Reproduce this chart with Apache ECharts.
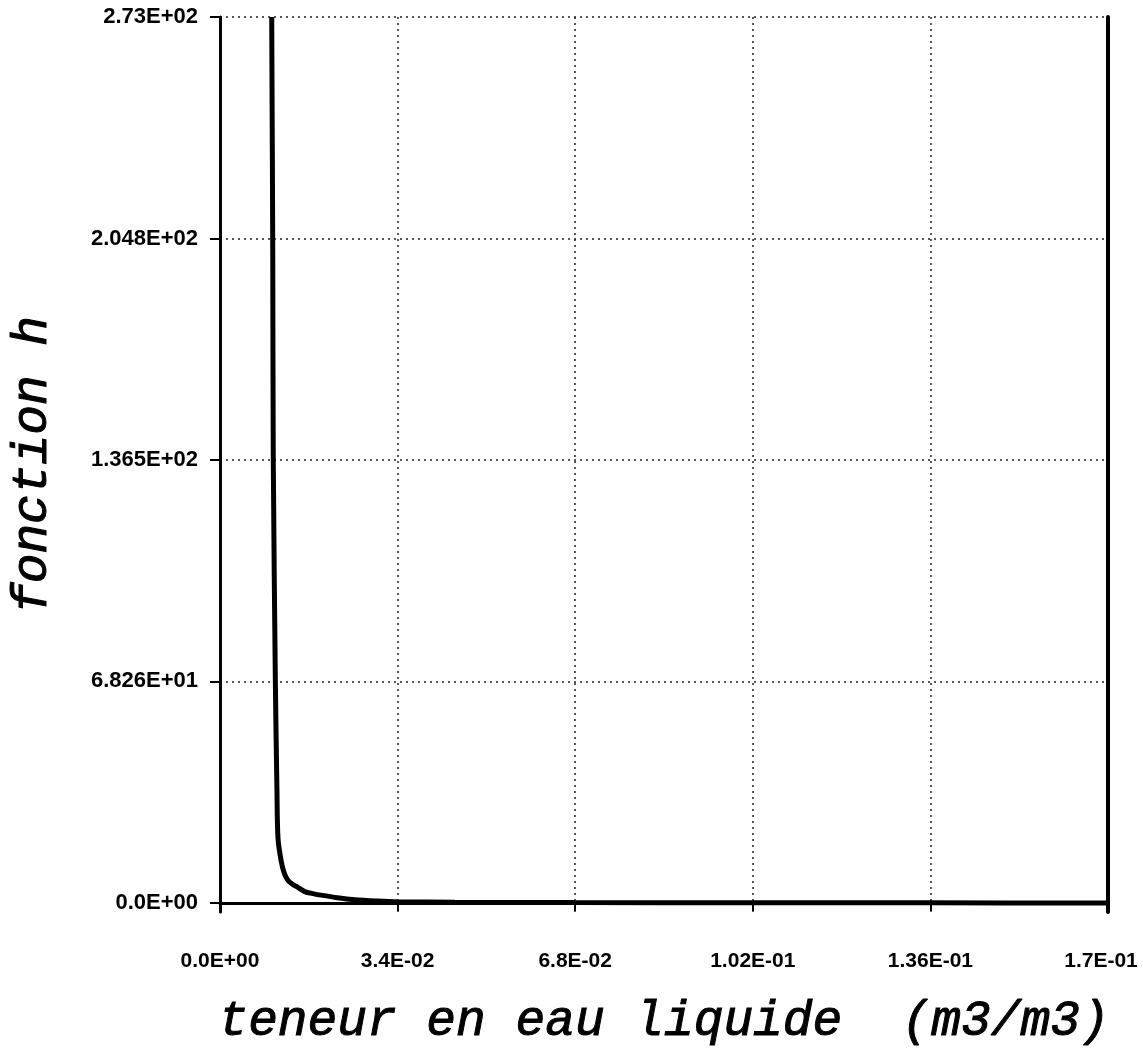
<!DOCTYPE html>
<html>
<head>
<meta charset="utf-8">
<style>
  html, body { margin: 0; padding: 0; background: #fff; }
  #chart { width: 1143px; height: 1054px; }
</style>
<script src="https://cdn.jsdelivr.net/npm/echarts@6/dist/echarts.min.js"></script>
</head>
<body>
<div id="chart"></div>
<script>
// values: teneur (m3/m3) -> fonction h
const teneur = [0.0099, 0.0101, 0.0102, 0.0106, 0.0109, 0.0111, 0.0117, 0.0123, 0.0130, 0.0140, 0.0149,
  0.0162, 0.0180, 0.0193, 0.0225, 0.0258, 0.030, 0.034, 0.045, 0.068, 0.10, 0.136, 0.17]
const fonctionH = [273, 200, 136.5, 68, 35, 20, 13, 9.2, 7.0, 5.6, 4.8,
  3.5, 2.8, 2.4, 1.6, 1.0, 0.6, 0.35, 0.2, 0.1, 0.05, 0.02, 0]

const xTickLabels = ['0.0E+00', '3.4E-02', '6.8E-02', '1.02E-01', '1.36E-01', '1.7E-01']
const yTicks = [0, 68.25, 136.5, 204.75, 273]
const yTickLabels = ['0.0E+00', '6.826E+01', '1.365E+02', '2.048E+02', '2.73E+02']

const points = teneur.map((t, i) => [t, fonctionH[i]])

const labelFont = { fontFamily: 'Liberation Sans', fontWeight: 'bold', fontSize: 22, color: '#000' }
const titleFont = {
  fontFamily: 'Liberation Mono', fontStyle: 'italic', fontSize: 49.5, color: '#000',
  textBorderColor: '#000', textBorderWidth: 1
}
const dotted = { color: '#222', width: 1.5, type: [2, 4] }

var myChart = echarts.init(document.getElementById('chart'), null, { renderer: 'canvas' })

myChart.setOption({
  animation: false,
  // the x axis sits a little below h = 0, so the y range starts slightly under zero
  grid: { left: 220, right: 35, top: 17, bottom: 142, outerBoundsMode: 'none', containLabel: false },
  xAxis: {
    type: 'value',
    min: 0,
    max: 0.17,
    interval: 0.034,
    name: 'teneur en eau liquide  (m3/m3)',
    nameLocation: 'middle',
    nameGap: 85,
    nameTextStyle: titleFont,
    axisLine: { show: true, lineStyle: { color: '#000', width: 3 } },
    axisTick: { show: true, length: 8, lineStyle: { color: '#000', width: 2 } },
    axisLabel: {
      margin: 39,
      fontFamily: 'Liberation Sans',
      fontWeight: 'bold',
      fontSize: 21,
      color: '#000',
      formatter: (v, i) => i === xTickLabels.length - 1 ? '{r|' + xTickLabels[i] + '}' : xTickLabels[i],
      rich: { r: { fontFamily: 'Liberation Sans', fontWeight: 'bold', fontSize: 21, padding: [0, 14, 0, 0] } }
    },
    splitLine: { show: true, lineStyle: dotted }
  },
  yAxis: [
    {
      type: 'value',
      min: -2.8,
      max: 273,
      name: 'fonction h',
      nameLocation: 'middle',
      nameGap: 162,
      nameTextStyle: titleFont,
      axisLine: { show: true, lineStyle: { color: '#000', width: 3 } },
      axisTick: { show: true, length: 10, customValues: yTicks, lineStyle: { color: '#000', width: 2 } },
      axisLabel: Object.assign({
        margin: 22,
        customValues: yTicks,
        formatter: v => yTickLabels[yTicks.indexOf(v)]
      }, labelFont),
      splitLine: { show: true, lineStyle: dotted }
    },
    {
      type: 'value',
      position: 'right',
      min: -2.8,
      max: 273,
      axisLine: { show: true, lineStyle: { color: '#000', width: 4 } },
      axisTick: { show: false },
      axisLabel: { show: false },
      splitLine: { show: false }
    }
  ],
  series: [
    {
      type: 'line',
      data: points,
      showSymbol: false,
      smooth: 0.3,
      lineStyle: { color: '#000', width: 5 }
    }
  ]
})
</script>
</body>
</html>
